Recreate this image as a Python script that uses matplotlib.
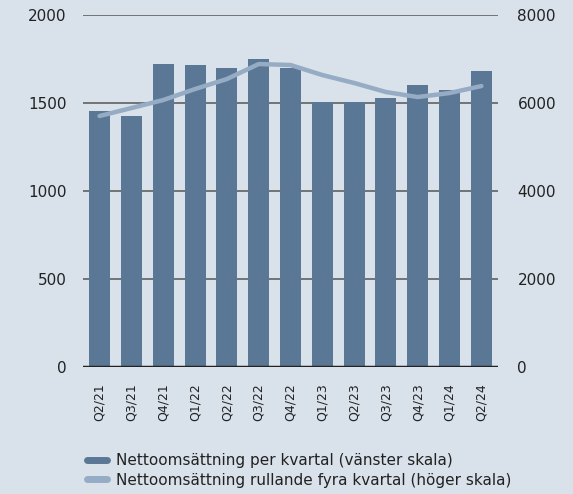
import matplotlib
matplotlib.use("Agg")
import matplotlib.pyplot as plt
from matplotlib.lines import Line2D

quarters = ["Q2/21", "Q3/21", "Q4/21", "Q1/22", "Q2/22", "Q3/22", "Q4/22",
            "Q1/23", "Q2/23", "Q3/23", "Q4/23", "Q1/24", "Q2/24"]
quarterly = [1455, 1426, 1722, 1716, 1699, 1750, 1697, 1506, 1506, 1528, 1602, 1574, 1682]
rolling = [5705, 5886, 6068, 6318, 6545, 6886, 6864, 6636, 6455, 6250, 6136, 6227, 6386]
left_ticks = [0, 500, 1000, 1500, 2000]
right_ticks = [0, 2000, 4000, 6000, 8000]
legend_labels = ["Nettoomsättning per kvartal (vänster skala)",
                 "Nettoomsättning rullande fyra kvartal (höger skala)"]

bg = "#d9e1ea"
bar_color = "#5a7795"
line_color = "#95acc4"
text_color = "#222222"

plt.rcParams['font.family'] = ['DejaVu Sans']

fig = plt.figure(figsize=(5.73, 4.94), dpi=100, facecolor=bg)
ax = fig.add_axes([0.1449, 0.257, 0.869 - 0.1449, 0.9696 - 0.257])
ax.set_facecolor(bg)
x = list(range(len(quarters)))
ax.bar(x, quarterly, width=0.66, color=bar_color, zorder=2)
ax.set_xlim(-0.52, len(quarters) - 0.48)
ax.set_ylim(0, 2000)
ax.set_yticks(left_ticks)
for t in left_ticks[1:]:
    ax.axhline(t, color="#555555", lw=1.1, zorder=1)
ax.axhline(0, color="#222222", lw=2.5, zorder=5)
for s in ax.spines.values():
    s.set_visible(False)
ax.tick_params(axis='y', length=0, pad=12, labelsize=11, labelcolor=text_color)
ax.set_xticks(x)
ax.set_xticklabels(quarters, rotation=90, fontsize=9, color=text_color)
ax.tick_params(axis='x', length=0, pad=12)

ax2 = ax.twinx()
ax2.plot(x, rolling, color=line_color, lw=3.2, solid_capstyle='round', solid_joinstyle='round', zorder=6)
ax2.set_ylim(0, 8000)
ax2.set_yticks(right_ticks)
for s in ax2.spines.values():
    s.set_visible(False)
ax2.tick_params(axis='y', length=0, pad=14, labelsize=11, labelcolor=text_color)

handles = [Line2D([0], [0], color=bar_color, lw=5, solid_capstyle='round'),
           Line2D([0], [0], color=line_color, lw=5, solid_capstyle='round')]
fig.legend(handles, legend_labels, loc='upper left', bbox_to_anchor=(0.139, 0.098),
           frameon=False, fontsize=11, handlelength=1.3, handletextpad=0.55,
           labelspacing=0.3, borderpad=0, labelcolor=text_color)

fig.savefig("out.png", dpi=100, facecolor=bg)
